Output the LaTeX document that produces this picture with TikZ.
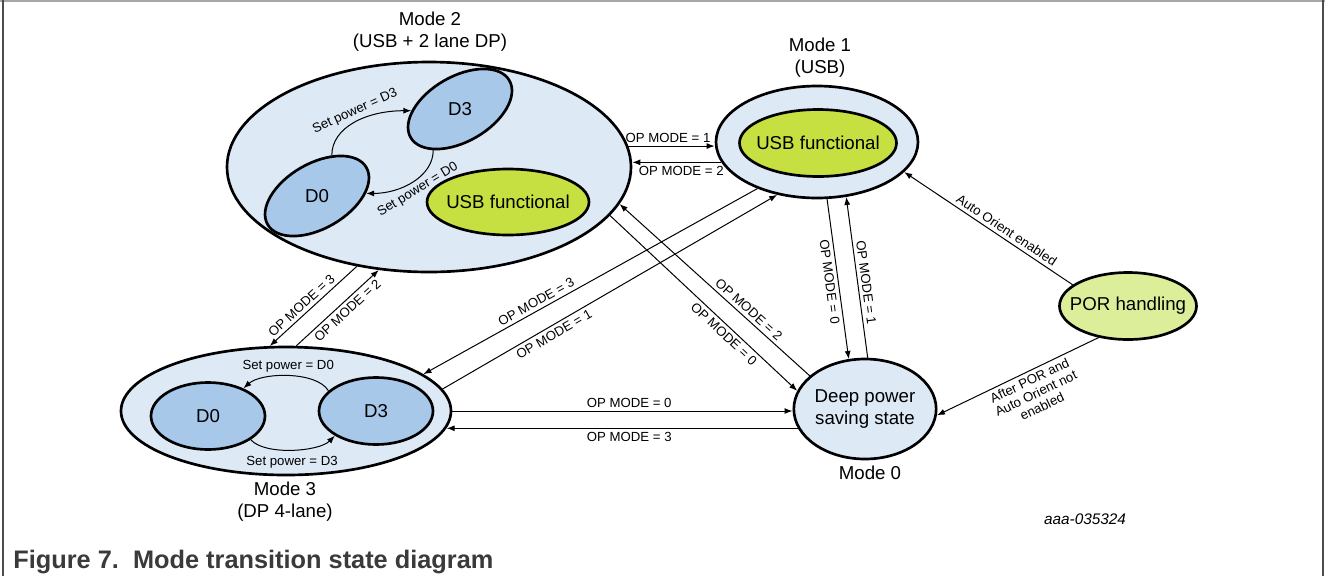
\documentclass[tikz,border=0pt]{standalone}
\usepackage{fontspec}
\setmainfont{Liberation Sans}
\usetikzlibrary{arrows.meta,shapes.geometric}
\definecolor{modefill}{RGB}{222,233,246}
\definecolor{dfill}{RGB}{168,200,234}
\definecolor{usbfill}{RGB}{197,224,64}
\definecolor{porfill}{RGB}{221,238,155}
\definecolor{capgray}{RGB}{58,58,58}
\newcommand{\bigfont}{\fontsize{14}{16.5}\selectfont}
\newcommand{\lblfont}{\fontsize{9.9}{10.8}\selectfont}
\tikzset{
  >=Stealth,
  every picture/.append style={line width=0.6pt},
}
\tikzset{
  oval/.style={ellipse, draw, line width=2pt, inner sep=0pt, font=\bigfont, align=center},
  arr/.style={-{Latex[length=6pt,width=4.5pt]}, line width=0.75pt},
  lbl/.style={font=\lblfont, inner sep=2.5pt}
}
\begin{document}
\begin{tikzpicture}[
  x=0.75pt, y=-0.75pt,
  mode/.style={oval, fill=modefill},
  dstate/.style={oval, fill=dfill, minimum width=85.5pt, minimum height=50.25pt},
  tilted/.style={dstate, rotate=30, minimum height=48.75pt},
  usb/.style={oval, fill=usbfill},
  title/.style={font=\bigfont, align=center, inner sep=0pt}
]
\useasboundingbox (0,0) rectangle (1325,576);
% page frame
\draw[black!35, line width=1.2pt] (0,1) -- (1325,1);
\draw[black!70, line width=1.5pt] (2.5,0) -- (2.5,576);
\draw[black!70, line width=1.5pt] (1322.5,0) -- (1322.5,576);

% Mode 2 (USB + 2 lane DP)
\node[mode, minimum width=303pt, minimum height=157.5pt] (m2) at (429,167) {};
\node[tilted] (m2d3) at (460,109) {\rotatebox{-30}{D3}};
\node[tilted] (m2d0) at (317,196) {\rotatebox{-30}{D0}};
\node[usb, minimum width=121.5pt, minimum height=49.5pt] (m2usb) at (508,202) {\makebox[0pt]{USB functional}};
\node[title] (m2name) at (430,32) {Mode 2\\(USB + 2 lane DP)};

% Mode 1 (USB)
\node[mode, minimum width=151.5pt, minimum height=84pt] (m1) at (817,142) {};
\node[usb, minimum width=117.75pt, minimum height=50.25pt] (m1usb) at (818,143) {\makebox[0pt]{USB functional}};
\node[title] (m1name) at (820,58) {Mode 1\\(USB)};

% Mode 3 (DP 4-lane)
\node[mode, minimum width=247.5pt, minimum height=96pt] (m3) at (286,411) {};
\node[dstate] (m3d0) at (208,416) {D0};
\node[dstate] (m3d3) at (376,411) {D3};
\node[title] (m3name) at (285,502) {Mode 3\\(DP 4-lane)};

% Mode 0 and POR
\node[mode, minimum width=105pt, minimum height=75pt] (m0) at (865,409) {Deep power\\saving state};
\node[title] (m0name) at (870,473) {Mode 0};
\node[oval, fill=porfill, minimum width=102.75pt, minimum height=50.25pt] (por) at (1128,306) {\makebox[0pt]{POR handling}};

% power states inside the modes
\draw[arr] (m2d0.40) .. controls +(0,-28) and +(-45,0) .. (m2d3.152) node[lbl, sloped, above, pos=0.55] {Set power = D3};
\draw[arr] (m2d3.207) .. controls +(0,26) and +(35,0) .. (m2d0.333) node[lbl, sloped, below, pos=0.5] {Set power = D0};
\draw[arr] (m3d3.157) .. controls +(-12,-20) and +(18,-16) .. (m3d0.38) node[lbl, pos=0.5, above] {Set power = D0};
\draw[arr] (m3d0.331) .. controls +(14,16) and +(-16,16) .. (m3d3.211) node[lbl, pos=0.5, below=2pt] {Set power = D3};

% mode transitions
\draw[arr] (m2.6) -- node[lbl, above, pos=0.46] {OP MODE = 1} (m2.6 -| m1.west);
\draw[arr] (m1.192) -- node[lbl, below, pos=0.45] {OP MODE = 2} (m1.192 -| m2.east);
\draw[arr] (m2.234) -- node[lbl, sloped, above, pos=0.57] {OP MODE = 3} (m3.104);
\draw[arr] (m3.81) -- node[lbl, sloped, below, pos=0.55] {OP MODE = 2} (m2.244);
\draw[arr] (m1.218) -- node[lbl, sloped, above, pos=0.65] {OP MODE = 3} (m3.15);
\draw[arr] (m3.8) -- node[lbl, sloped, below, pos=0.32] {OP MODE = 1} (m1.233);
\draw[arr] (m2.345) -- node[lbl, sloped, below, pos=0.64] {OP MODE = 0} (m0.165);
\draw[arr] (m0.149) -- node[lbl, sloped, above, pos=0.35] {OP MODE = 2} (m2.349);
\draw[arr] (m1.280) -- node[lbl, sloped, below, pos=0.51] {OP MODE = 0} (m0.108);
\draw[arr] (m0.87) -- node[lbl, sloped, above, pos=0.46] {OP MODE = 1} (m1.298);
\draw[arr] (m3.east) -- node[lbl, above, pos=0.52] {OP MODE = 0} (m3.east -| m0.west);
\draw[arr] (m0.196) -- node[lbl, below, pos=0.48] {OP MODE = 3} (m0.196 -| m3.354);

% POR handling
\draw[arr] (por.159) -- node[lbl, sloped, above, pos=0.42] {Auto Orient enabled} (m1.341);
\draw[arr] (por.227) -- node[lbl, sloped, below, pos=0.45, align=center] {After POR and\\Auto Orient not\\enabled} (m0.355);

% caption
\node[font=\fontsize{11.5}{13}\selectfont\itshape] (docid) at (1085,519) {aaa-035324};
\node[anchor=base west, inner sep=0pt, text=capgray, font=\fontsize{19}{22}\selectfont\bfseries] (caption) at (13,568) {Figure 7.\ \ Mode transition state diagram};
\end{tikzpicture}
\end{document}
